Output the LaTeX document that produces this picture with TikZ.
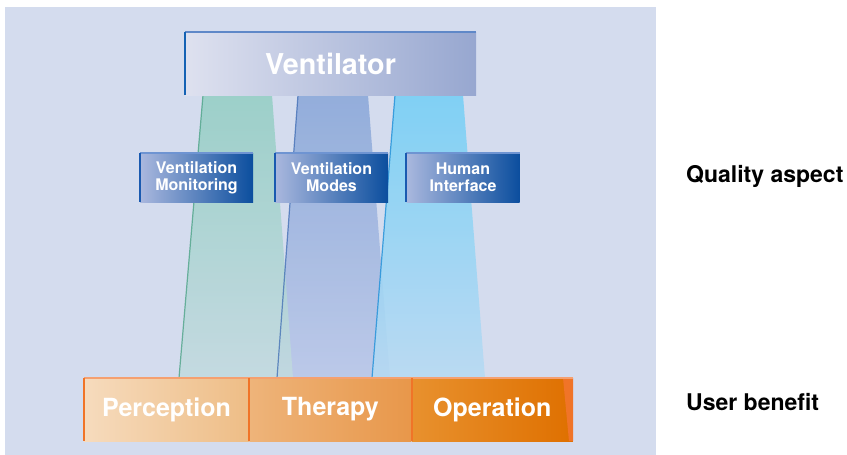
\documentclass[tikz,border=0pt]{standalone}
\usepackage{fontspec}
\setmainfont{TeX Gyre Heros}
\usetikzlibrary{positioning}

\definecolor{panelbg}{HTML}{D4DCEE}
\definecolor{ventL}{HTML}{DEE1EF}
\definecolor{ventR}{HTML}{97A7D0}
\definecolor{ventTop}{HTML}{5F88C8}
\definecolor{ventSide}{HTML}{1462B4}
\definecolor{aspL}{HTML}{AAB8DE}
\definecolor{aspR}{HTML}{0B4E9E}
\definecolor{aspTop}{HTML}{6E94D2}
\definecolor{aspSide}{HTML}{1A5AB0}
\definecolor{orTop}{HTML}{F5A070}
\definecolor{orSide}{HTML}{F07428}
\definecolor{greenT}{HTML}{93CEC3}
\definecolor{greenB}{HTML}{C2DADF}
\definecolor{greenE}{HTML}{4EA488}
\definecolor{blueT}{HTML}{88A6D8}
\definecolor{blueB}{HTML}{B8C6E8}
\definecolor{blueE}{HTML}{3565B0}
\definecolor{cyanT}{HTML}{72CFF6}
\definecolor{cyanB}{HTML}{B6DAF3}
\definecolor{cyanE}{HTML}{1E8FD8}

\tikzset{
  box/.style={inner sep=0pt, text=white, align=center},
  topbox/.style={box, minimum width=291pt, minimum height=63pt,
    left color=ventL, right color=ventR,
    font=\bfseries\fontsize{28.7}{30}\selectfont},
  aspectbox/.style={box, minimum width=113pt, minimum height=49pt,
    left color=aspL, right color=aspR,
    font=\bfseries\fontsize{16}{17}\selectfont},
  benefitbox/.style={box, minimum height=63pt,
    font=\bfseries\fontsize{25}{26}\selectfont},
  beam/.style={fill opacity=0.85},
  sidelabel/.style={anchor=base west, inner sep=0pt,
    font=\bfseries\fontsize{23}{25}\selectfont}
}

\begin{document}
\begin{tikzpicture}[x=1pt,y=-1pt]

    \useasboundingbox (0,0) rectangle (847,455);

    % Panel
    \fill[panelbg] (5,7) rectangle (656,455);

    % Beams from the ventilator down to the user benefits
    \shade[beam, top color=blueT, bottom color=blueB]
        (298,95) -- (368,95) -- (390,378) -- (277,378) -- cycle;
    \shade[beam, top color=greenT, bottom color=greenB]
        (203,95) -- (272,95) -- (293,378) -- (179,378) -- cycle;
    \shade[beam, top color=cyanT, bottom color=cyanB]
        (395,95) -- (463,95) -- (485,378) -- (372,378) -- cycle;
    \draw[greenE, line width=1.2pt, opacity=0.8] (203,95) -- (179,378);
    \draw[blueE, line width=1.2pt, opacity=0.7] (298,95) -- (277,378);
    \draw[cyanE, line width=1.2pt, opacity=0.8] (395,95) -- (372,378);

    % Ventilator
    \node[topbox] (vent) at (330.5,63.5) {Ventilator};
    \draw[ventTop, line width=2.5pt] (vent.north west) -- (vent.north east);
    \draw[ventSide, line width=2.5pt] (vent.north west) -- (vent.south west);

    % Quality aspects
    \node[aspectbox] (mon) at (196.5,177.5) {Ventilation\\Monitoring};
    \node[aspectbox] (modes) at (331.5,177.5) {Ventilation\\Modes};
    \node[aspectbox] (hmi) at (463,177.5) {Human\\Interface};
    \foreach \n in {mon,modes,hmi}
    {
        \draw[aspTop, line width=2pt] (\n.north west) -- (\n.north east);
        \draw[aspSide, line width=2pt] (\n.north west) -- (\n.south west);
    }

    % User benefits
    \node[benefitbox, minimum width=165pt,
        left color={rgb,255:red,246;green,219;blue,189},
        right color={rgb,255:red,238;green,189;blue,134}]
        (perc) at (166.5,409.5) {Perception};
    \node[benefitbox, minimum width=162pt, right=0pt of perc,
        left color={rgb,255:red,238;green,180;blue,122},
        right color={rgb,255:red,232;green,151;blue,74}]
        (ther) {Therapy};
    \node[benefitbox, minimum width=161pt, right=0pt of ther,
        left color={rgb,255:red,232;green,145;blue,46},
        right color={rgb,255:red,223;green,112;blue,0}]
        (oper) {Operation};
    \fill[orSide] ([xshift=-10pt]oper.north east) -- (oper.north east)
        -- (oper.south east) -- ([xshift=-4pt]oper.south east) -- cycle;
    \draw[orTop, line width=2pt] (perc.north west) -- (oper.north east);
    \foreach \n in {perc,ther,oper}
        \draw[orSide, line width=2pt] (\n.north west) -- (\n.south west);

    % Side labels
    \node[sidelabel] (quality) at (686,182) {Quality aspect};
    \node[sidelabel] (benefit) at (686,410) {User benefit};

\end{tikzpicture}
\end{document}
